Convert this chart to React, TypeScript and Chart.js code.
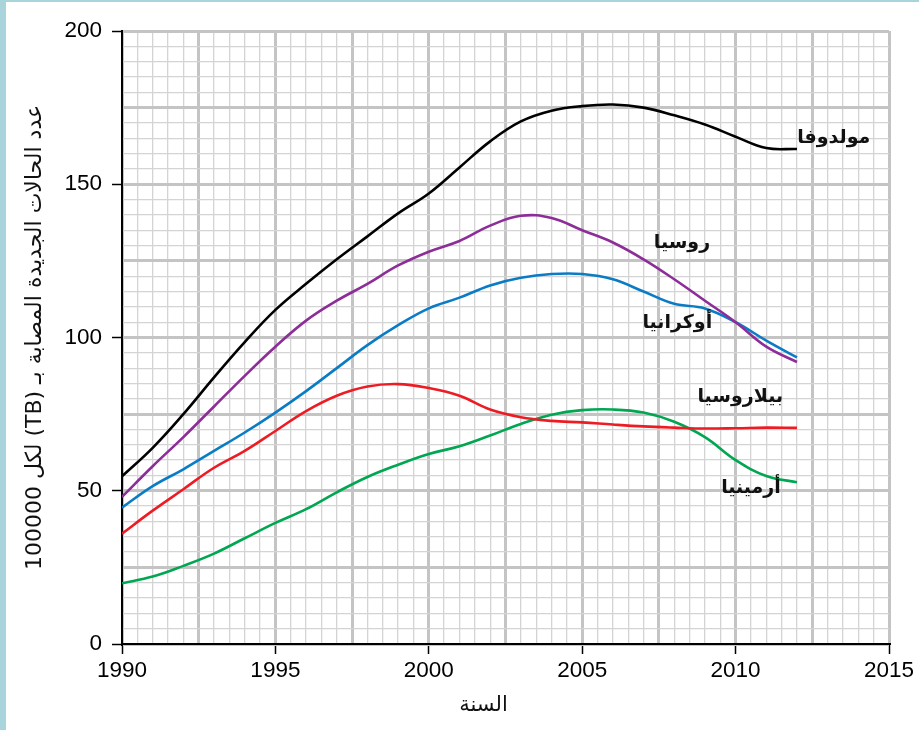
import React, { useEffect, useRef } from 'react';
import { Chart, registerables } from 'chart.js';

Chart.register(...registerables);

const years = [1990, 1991, 1992, 1993, 1994, 1995, 1996, 1997, 1998, 1999, 2000, 2001, 2002, 2003, 2004, 2005, 2006, 2007, 2008, 2009, 2010, 2011, 2012];
const moldova = [54.7, 64, 75, 87, 98.5, 109, 117.5, 125.5, 133, 140.5, 147, 155.5, 164, 170.5, 174, 175.5, 176, 175, 172.5, 169.5, 165.5, 161.8, 161.5];
const russia = [48, 58, 67.5, 77.5, 87.5, 97, 105.5, 112, 117.5, 123.5, 128, 131.5, 136.5, 139.7, 139, 135, 131, 125.5, 119, 112, 105, 97, 92];
const ukraine = [44.5, 51.5, 57, 63, 69, 75.5, 82.5, 90, 97.5, 104, 109.5, 113, 117, 119.5, 120.7, 120.7, 119, 115, 111, 109.5, 105, 99, 93.5];
const belarus = [36, 43.5, 50.5, 57.5, 63, 69.5, 76, 81, 84, 84.8, 83.5, 81, 76.5, 74, 72.8, 72.3, 71.6, 71, 70.6, 70.3, 70.4, 70.6, 70.5];
const armenia = [19.8, 22, 25.5, 29.5, 34.5, 39.5, 44, 49.5, 54.5, 58.5, 62, 64.5, 68, 71.8, 74.8, 76.3, 76.5, 75.5, 72.5, 67.5, 60, 54.8, 52.8];

const seriesNames = ['مولدوفا', 'روسيا', 'أوكرانيا', 'بيلاروسيا', 'أرمينيا'];
const seriesColors = ['#000000', '#8c2d98', '#0a7cc6', '#ed1c24', '#00a651'];
const labelYears = [2013.2, 2008.25, 2008.1, 2010.15, 2010.5];
const labelValues = [165, 130.7, 104.6, 80.7, 51];

const xTitle = 'السنة';
const yTitle = 'عدد الحالات الجديدة المصابة بـ (TB) لكل 100000';

const isMult = (v: number, m: number) => Math.abs(v / m - Math.round(v / m)) < 1e-6;

const textPlugin = {
  id: 'seriesTexts',
  afterDatasetsDraw(chart: any) {
    const { ctx, scales, chartArea } = chart;
    const xs = scales.x;
    const ys = scales.y;
    ctx.save();
    ctx.fillStyle = '#111';
    ctx.textAlign = 'center';
    ctx.textBaseline = 'middle';
    ctx.font = 'bold 19px "DejaVu Sans", sans-serif';
    seriesNames.forEach((t, i) => {
      ctx.fillText(t, xs.getPixelForValue(labelYears[i]), ys.getPixelForValue(labelValues[i]));
    });
    ctx.font = '21px "DejaVu Sans", sans-serif';
    ctx.fillText(xTitle, (chartArea.left + chartArea.right) / 2 - 22, chartArea.bottom + 62);
    ctx.restore();
  },
};

export default function App() {
  const ref = useRef<HTMLCanvasElement | null>(null);

  useEffect(() => {
    const canvas = ref.current;
    if (!canvas) return;
    const mk = (data: number[], i: number) => ({
      label: seriesNames[i],
      data: years.map((yr, k) => ({ x: yr, y: data[k] })),
      borderColor: seriesColors[i],
      backgroundColor: seriesColors[i],
      borderWidth: 2.6,
      pointRadius: 0,
      tension: 0.4,
      fill: false,
    });
    const tickFont = { family: '"Liberation Sans", Arial, sans-serif', size: 22.5 };
    const chart = new Chart(canvas, {
      type: 'line',
      data: {
        datasets: [mk(moldova, 0), mk(russia, 1), mk(ukraine, 2), mk(belarus, 3), mk(armenia, 4)],
      },
      options: {
        animation: false,
        responsive: false,
        devicePixelRatio: 1,
        layout: { padding: { top: 31, right: 30, left: 0, bottom: 0 } },
        plugins: { legend: { display: false }, tooltip: { enabled: false } },
        scales: {
          x: {
            type: 'linear',
            min: 1990,
            max: 2015,
            afterFit: (s: any) => { s.height = 86; },
            ticks: {
              stepSize: 0.5,
              autoSkip: false,
              maxRotation: 0,
              minRotation: 0,
              padding: 3,
              color: '#000',
              font: tickFont,
              callback: (v: any) => (isMult(Number(v), 5) ? String(v) : ''),
            },
            grid: {
              color: (c: any) => (isMult(c.tick.value, 2.5) ? '#c4c4c4' : '#d4d4d4'),
              lineWidth: (c: any) => (isMult(c.tick.value, 2.5) ? 3 : 1.3),
              drawTicks: true,
              tickLength: 10,
              tickWidth: 1.5,
              tickColor: (c: any) => (isMult(c.tick.value, 5) ? '#000' : 'rgba(0,0,0,0)'),
            },
            border: { display: true, color: '#000', width: 2 },
          },
          y: {
            type: 'linear',
            min: 0,
            max: 200,
            afterFit: (s: any) => { s.width = 122; },
            ticks: {
              stepSize: 5,
              autoSkip: false,
              padding: 10,
              color: '#000',
              font: tickFont,
              callback: (v: any) => (isMult(Number(v), 50) ? String(v) : ''),
            },
            grid: {
              color: (c: any) => (isMult(c.tick.value, 25) ? '#c4c4c4' : '#d4d4d4'),
              lineWidth: (c: any) => (isMult(c.tick.value, 25) ? 3 : 1.3),
              drawTicks: true,
              tickLength: 10,
              tickWidth: 1.5,
              tickColor: (c: any) => (isMult(c.tick.value, 50) ? '#000' : 'rgba(0,0,0,0)'),
            },
            border: { display: true, color: '#000', width: 2 },
            title: {
              display: true,
              text: yTitle,
              color: '#111',
              font: { family: '"DejaVu Sans", sans-serif', size: 22 },
              padding: { top: 22, bottom: 0 },
            },
          },
        },
      },
      plugins: [textPlugin],
    } as any);
    return () => chart.destroy();
  }, []);

  return (
    <div style={{ position: 'absolute', left: 0, top: 0, width: 919, height: 730, background: '#fff' }}>
      <canvas ref={ref} width={919} height={730} dir="rtl" style={{ position: 'absolute', left: 0, top: 0, display: 'block' }} />
      <div style={{ position: 'absolute', left: 0, top: 0, width: 6, height: 730, background: '#a9d4db' }} />
      <div style={{ position: 'absolute', left: 0, top: 0, width: 919, height: 2, background: '#a9d4db' }} />
    </div>
  );
}
